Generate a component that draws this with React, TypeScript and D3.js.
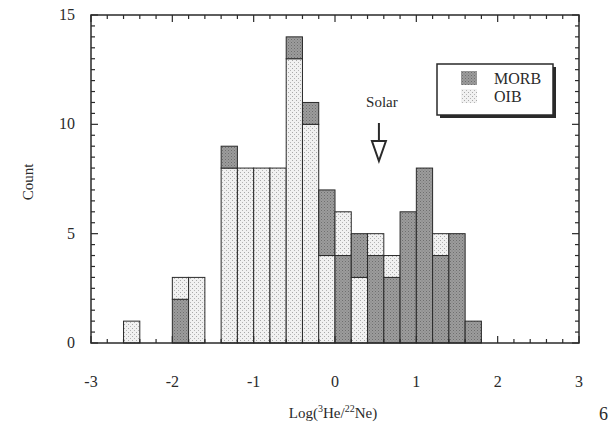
import React from "react";
import * as d3 from "d3";

// bin start edges (log 3He/22Ne), width 0.2
const binStarts = [
  -2.6, -2.4, -2.2, -2.0, -1.8, -1.6, -1.4, -1.2, -1.0, -0.8, -0.6, -0.4,
  -0.2, 0.0, 0.2, 0.4, 0.6, 0.8, 1.0, 1.2, 1.4, 1.6,
];
const binWidth = 0.2;
const morbCounts = [0, 0, 0, 2, 0, 0, 1, 0, 0, 0, 1, 1, 3, 4, 2, 4, 3, 6, 8, 4, 5, 1];
const oibCounts = [1, 0, 0, 1, 3, 0, 8, 8, 8, 8, 13, 10, 4, 2, 3, 1, 1, 0, 0, 1, 0, 0];
const xTicks = [-3, -2, -1, 0, 1, 2, 3];
const yTicks = [0, 5, 10, 15];
const solarValue = 0.54;

const font = "'Liberation Serif', 'Times New Roman', serif";
const ink = "#2a2a2a";

function Chart() {
  const width = 616;
  const height = 426;
  const left = 91;
  const right = 579;
  const top = 15;
  const bottom = 343;

  const x = d3.scaleLinear().domain([-3, 3]).range([left, right]);
  const y = d3.scaleLinear().domain([0, 15]).range([bottom, top]);

  const xMinor = d3.range(-3, 3.001, 0.2).map((v) => Math.round(v * 10) / 10);
  const yMinor = d3.range(0, 15.001, 0.5);

  // per bin: larger group at the bottom, smaller stacked on top
  const segments = binStarts.flatMap((b, i) => {
    const parts = [
      { key: "MORB", v: morbCounts[i] },
      { key: "OIB", v: oibCounts[i] },
    ]
      .filter((p) => p.v > 0)
      .sort((a, c) => c.v - a.v);
    let acc = 0;
    return parts.map((p) => {
      const s = { key: p.key, x0: b, y0: acc, y1: acc + p.v, i };
      acc += p.v;
      return s;
    });
  });

  const solarX = x(solarValue);

  return (
    <svg
      width={width}
      height={height}
      style={{ position: "absolute", left: 0, top: 0, background: "#fff" }}
    >
      <defs>
        <pattern id="morb" width={3} height={3} patternUnits="userSpaceOnUse">
          <rect width={3} height={3} fill="#9c9c9c" />
          <rect x={0} y={0} width={1} height={1} fill="#6e6e6e" />
          <rect x={1.5} y={1.5} width={1} height={1} fill="#7e7e7e" />
        </pattern>
        <pattern id="oib" width={4} height={4} patternUnits="userSpaceOnUse">
          <rect width={4} height={4} fill="#f1f1f1" />
          <rect x={0} y={0} width={1} height={1} fill="#a8a8a8" />
          <rect x={2} y={2} width={1} height={1} fill="#b4b4b4" />
        </pattern>
      </defs>

      {/* bars */}
      <g>
        {segments.map((s, k) => (
          <rect
            key={k}
            x={x(s.x0)}
            y={y(s.y1)}
            width={x(s.x0 + binWidth) - x(s.x0)}
            height={y(s.y0) - y(s.y1)}
            fill={s.key === "MORB" ? "url(#morb)" : "url(#oib)"}
            stroke={ink}
            strokeWidth={1}
          />
        ))}
      </g>

      {/* frame */}
      <rect
        x={left}
        y={top}
        width={right - left}
        height={bottom - top}
        fill="none"
        stroke={ink}
        strokeWidth={1.5}
      />

      {/* x ticks, bottom and top */}
      <g stroke={ink} strokeWidth={1.2}>
        {xMinor.map((v, i) => {
          const major = Number.isInteger(v);
          const len = major ? 7 : 4;
          return (
            <g key={i}>
              <line x1={x(v)} x2={x(v)} y1={bottom} y2={bottom - len} />
              <line x1={x(v)} x2={x(v)} y1={top} y2={top + len} />
            </g>
          );
        })}
        {yMinor.map((v, i) => {
          const major = v % 5 === 0;
          const len = major ? 7 : 4;
          return (
            <g key={i}>
              <line x1={left} x2={left + len} y1={y(v)} y2={y(v)} />
              <line x1={right} x2={right - len} y1={y(v)} y2={y(v)} />
            </g>
          );
        })}
      </g>

      {/* tick labels */}
      <g fontFamily={font} fontSize={16} fill={ink}>
        {xTicks.map((v) => (
          <text key={v} x={x(v)} y={387} textAnchor="middle">
            {v}
          </text>
        ))}
        {yTicks.map((v) => (
          <text key={v} x={75} y={y(v) + 5} textAnchor="end">
            {v}
          </text>
        ))}
      </g>

      {/* axis titles */}
      <text
        x={333}
        y={418}
        textAnchor="middle"
        fontFamily={font}
        fontSize={15}
        fill={ink}
      >
        Log(
        <tspan fontSize={10} dy={-6}>
          3
        </tspan>
        <tspan dy={6}>He/</tspan>
        <tspan fontSize={10} dy={-6}>
          22
        </tspan>
        <tspan dy={6}>Ne)</tspan>
      </text>
      <text
        transform="translate(33,182) rotate(-90)"
        textAnchor="middle"
        fontFamily={font}
        fontSize={15}
        fill={ink}
      >
        Count
      </text>
      <text x={599} y={420} fontFamily={font} fontSize={18} fill={ink}>
        6
      </text>

      {/* solar marker */}
      <text
        x={solarX + 3}
        y={107}
        textAnchor="middle"
        fontFamily={font}
        fontSize={15}
        fill={ink}
      >
        Solar
      </text>
      <line
        x1={solarX}
        x2={solarX}
        y1={123}
        y2={141}
        stroke={ink}
        strokeWidth={2}
      />
      <path
        d={`M${solarX - 7},141 L${solarX + 7},141 L${solarX},161 Z`}
        fill="#fff"
        stroke={ink}
        strokeWidth={2}
        strokeLinejoin="miter"
      />

      {/* legend */}
      <g>
        <rect x={440} y={67} width={116} height={51} fill={ink} />
        <rect
          x={437}
          y={64}
          width={116}
          height={51}
          fill="#fff"
          stroke={ink}
          strokeWidth={1.5}
        />
        <rect x={461} y={71} width={16} height={14} fill="url(#morb)" />
        <rect x={461} y={89} width={16} height={14} fill="url(#oib)" />
        <text x={494} y={84} fontFamily={font} fontSize={16} fill={ink}>
          MORB
        </text>
        <text x={494} y={102} fontFamily={font} fontSize={16} fill={ink}>
          OIB
        </text>
      </g>
    </svg>
  );
}

export default function App() {
  return <Chart />;
}
